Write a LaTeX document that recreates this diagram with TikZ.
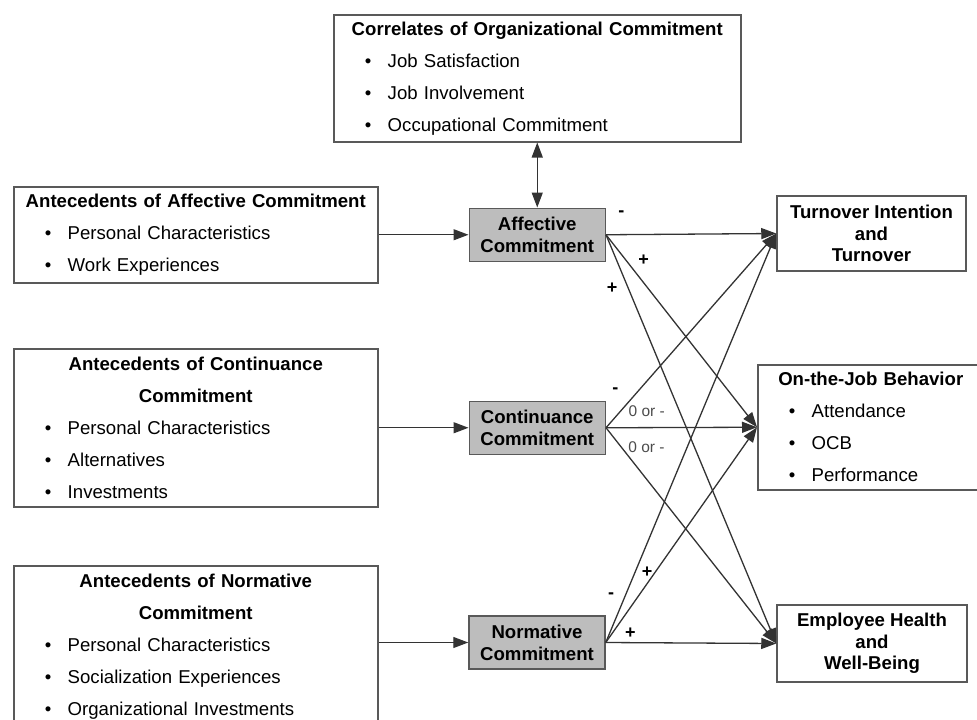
\documentclass[tikz,border=0pt]{standalone}
\usepackage{fontspec}
\setmainfont{Liberation Sans}
\usetikzlibrary{positioning, arrows.meta}
\setlength{\parindent}{0pt}
\newcommand{\pointitem}[1]{\par\hspace*{31pt}\makebox[23pt][l]{\textbullet}#1}

\begin{document}
\begin{tikzpicture}[x=1pt, y=-1pt,
  font=\fontsize{18.6}{32}\selectfont,
  listbox/.style={draw=black!65, line width=1.5pt, inner xsep=0pt, inner ysep=0pt, align=left, anchor=north west},
  gbox/.style={draw=black!65, fill=black!26, line width=1.5pt, minimum width=136pt, minimum height=53pt,
    align=center, inner sep=0pt, font=\fontsize{18.6}{22}\selectfont\bfseries},
  outbox/.style={draw=black!65, line width=1.5pt, minimum width=190pt, minimum height=76pt,
    align=center, inner sep=0pt, font=\fontsize{18.6}{21.5}\selectfont\bfseries},
  link/.style={draw=black!80, line width=1.3pt, -{Triangle[length=15pt,width=11pt]}},
  sgn/.style={font=\fontsize{18}{18}\selectfont\bfseries},
  zero/.style={font=\fontsize{15.5}{16}\selectfont, text=black!70}
  ]
  \useasboundingbox (0,0) rectangle (977,720);

  % correlates on top
  \node[listbox, text width=407pt, minimum height=127pt] (corr) at (333,14) {%
    {\bfseries\centering Correlates of Organizational Commitment\par}
    \pointitem{Job Satisfaction}
    \pointitem{Job Involvement}
    \pointitem{Occupational Commitment}};

  % antecedents
  \node[listbox, text width=364pt, minimum height=96pt] (aaff) at (13,186) {%
    {\bfseries\centering Antecedents of Affective Commitment\par}
    \pointitem{Personal Characteristics}
    \pointitem{Work Experiences}};
  \node[listbox, text width=364pt, minimum height=158pt] (acont) at (13,348) {%
    {\bfseries\centering Antecedents of Continuance\\ Commitment\par}
    \pointitem{Personal Characteristics}
    \pointitem{Alternatives}
    \pointitem{Investments}};
  \node[listbox, text width=364pt, minimum height=162pt] (anorm) at (13,565) {%
    {\bfseries\centering Antecedents of Normative\\ Commitment\par}
    \pointitem{Personal Characteristics}
    \pointitem{Socialization Experiences}
    \pointitem{Organizational Investments}};

  % the three components
  \node[gbox, right=90pt of aaff] (gaff) {Affective\\ Commitment};
  \node[gbox, right=90pt of acont] (gcont) {Continuance\\ Commitment};
  \node[gbox] (gnorm) at (537,642.5) {Normative\\ Commitment};

  % outcomes
  \node[outbox, minimum width=189pt, minimum height=75pt] (oturn) at (871.5,233.5) {Turnover Intention\\ and\\ Turnover};
  \node[listbox, text width=226pt, minimum height=125pt] (ojob) at (757,364) {%
    {\bfseries\centering On-the-Job Behavior\par}
    \pointitem{Attendance}
    \pointitem{OCB}
    \pointitem{Performance}};
  \node[outbox, minimum height=77pt] (ohealth) at (872,643.5) {Employee Health\\ and\\ Well-Being};

  \draw[link] (aaff.east) -- (gaff.west);
  \draw[link] (acont.east) -- (gcont.west);
  \draw[link] (anorm.east |- gnorm) -- (gnorm.west);
  \draw[link, {Triangle[length=15pt,width=11pt]}-{Triangle[length=15pt,width=11pt]}] (corr.south -| gaff) -- (gaff.north);

  % effects on outcomes
  \draw[link] (gaff.east) -- node[sgn, pos=0.09, yshift=21pt] (s1) {-} (oturn.west);
  \draw[link] (gaff.east) -- node[sgn, pos=0.13, xshift=18pt] (s2) {+} (ojob.west);
  \draw[link] (gaff.east) -- node[sgn, pos=0.13, xshift=-16pt] (s3) {+} (ohealth.west);
  \draw[link] (gcont.east) -- node[sgn, pos=0.19, xshift=-23pt] (s4) {-} (oturn.west);
  \draw[link] (gcont.east) -- node[zero, pos=0.27, yshift=16pt] (s5) {0 or -} (ojob.west);
  \draw[link] (gcont.east) -- node[zero, pos=0.238, yshift=31.6pt] (s6) {0 or -} (ohealth.west);
  \draw[link] (gnorm.east) -- node[sgn, pos=0.114, xshift=-14pt] (s7) {-} (oturn.west);
  \draw[link] (gnorm.east) -- node[sgn, pos=0.326, xshift=-8pt] (s8) {+} (ojob.west);
  \draw[link] (gnorm.east) -- node[sgn, pos=0.145, yshift=9pt] (s9) {+} (ohealth.west);
\end{tikzpicture}
\end{document}
